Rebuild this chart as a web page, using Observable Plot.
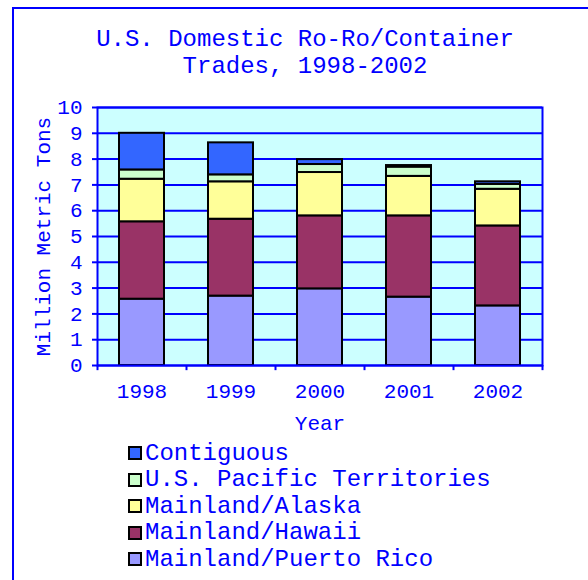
<!DOCTYPE html>
<html>
<head>
<meta charset="utf-8">
<script src="https://cdn.jsdelivr.net/npm/d3@7"></script>
<script src="https://cdn.jsdelivr.net/npm/@observablehq/plot@0.6"></script>
<style>
  html, body { margin: 0; padding: 0; background: #fff; }
  #wrap { position: relative; width: 588px; height: 580px; overflow: hidden; background: #fff;
    font-family: "Liberation Mono", "Courier New", monospace; color: #0000FF; }
  #border { position: absolute; left: 12px; top: 7px; right: -4px; bottom: -4px;
    border-left: 2px solid #0000FF; border-top: 2px solid #0000FF; pointer-events: none; }
  #title { position: absolute; left: 0; top: 0; width: 588px; height: 90px; box-sizing: border-box;
    padding-top: 26px; padding-left: 22px; text-align: center; font-size: 24px; line-height: 27px; }
  #chart { position: absolute; left: 0; top: 90px; }
  #legend { position: absolute; left: 128px; top: 440px; font-size: 24px; }
  .row { display: flex; align-items: center; height: 26.5px; white-space: pre; }
  .sw { width: 10px; height: 10px; border: 2px solid #000; margin-right: 3px; flex: none; }
</style>
</head>
<body>
<div id="wrap">
  <div id="border"></div>
  <div id="title">U.S. Domestic Ro-Ro/Container<br>Trades, 1998-2002</div>
  <div id="chart"></div>
  <div id="legend"></div>
</div>
<script>
const years = ["1998", "1999", "2000", "2001", "2002"];
const seriesNames = ["Mainland/Puerto Rico", "Mainland/Hawaii", "Mainland/Alaska", "U.S. Pacific Territories", "Contiguous"];
const seriesColors = ["#9999FF", "#993366", "#FFFF99", "#CCFFCC", "#3366FF"];
const puertoRico = [2.57, 2.69, 2.97, 2.65, 2.31];
const hawaii     = [3.00, 2.98, 2.83, 3.15, 3.10];
const alaska     = [1.65, 1.45, 1.68, 1.53, 1.42];
const pacific    = [0.36, 0.27, 0.31, 0.36, 0.19];
const contiguous = [1.42, 1.24, 0.19, 0.06, 0.10];
const yTicks = [0, 1, 2, 3, 4, 5, 6, 7, 8, 9, 10];

const seriesValues = [puertoRico, hawaii, alaska, pacific, contiguous];
const data = [];
seriesNames.forEach((name, i) => {
  years.forEach((yr, j) => data.push({year: yr, series: name, value: seriesValues[i][j]}));
});

const W = 588, H = 350, mL = 97, mR = 46, mT = 17, mB = 75;
const step = (W - mL - mR) / years.length;
const blue = "#0000FF";
const font = "Liberation Mono, Courier New, monospace";

const chart = Plot.plot({
  width: W, height: H,
  marginLeft: mL, marginRight: mR, marginTop: mT, marginBottom: mB,
  style: {fontFamily: font, fontSize: "21px", color: blue, background: "transparent"},
  x: {domain: years, paddingInner: 0.5, paddingOuter: 0.25, label: null},
  y: {domain: [0, 10], label: null},
  color: {domain: seriesNames, range: seriesColors},
  marks: [
    Plot.frame({fill: "#CCFFFF", stroke: null}),
    Plot.gridY(yTicks, {stroke: blue, strokeOpacity: 1, strokeWidth: 2}),
    Plot.barY(data, Plot.stackY({x: "year", y: "value", fill: "series", order: seriesNames, stroke: "#000", strokeWidth: 2})),
    Plot.frame({stroke: blue, strokeWidth: 2}),
    Plot.axisY(yTicks, {tickSize: 5, tickPadding: 10, stroke: blue, strokeWidth: 2, fill: blue, fontSize: 21,
      label: "Million Metric Tons", labelArrow: "none", labelAnchor: "center", labelOffset: 62}),
    Plot.axisX(years, {tickSize: 0, tickPadding: 18, fill: blue, fontSize: 21,
      label: "Year", labelArrow: "none", labelAnchor: "center", labelOffset: 64}),
    Plot.ruleX(years, {x: d => d, y1: 0, y2: -0.2, dx: -step / 2, stroke: blue, strokeWidth: 2, clip: false}),
    Plot.ruleX(years.slice(-1), {x: d => d, y1: 0, y2: -0.2, dx: step / 2, stroke: blue, strokeWidth: 2, clip: false})
  ]
});
document.getElementById("chart").appendChild(chart);

const legend = document.getElementById("legend");
const order = [4, 3, 2, 1, 0];
order.forEach(i => {
  const row = document.createElement("div");
  row.className = "row";
  const sw = document.createElement("span");
  sw.className = "sw";
  sw.style.background = seriesColors[i];
  const t = document.createElement("span");
  t.textContent = seriesNames[i];
  row.appendChild(sw);
  row.appendChild(t);
  legend.appendChild(row);
});
</script>
</body>
</html>
